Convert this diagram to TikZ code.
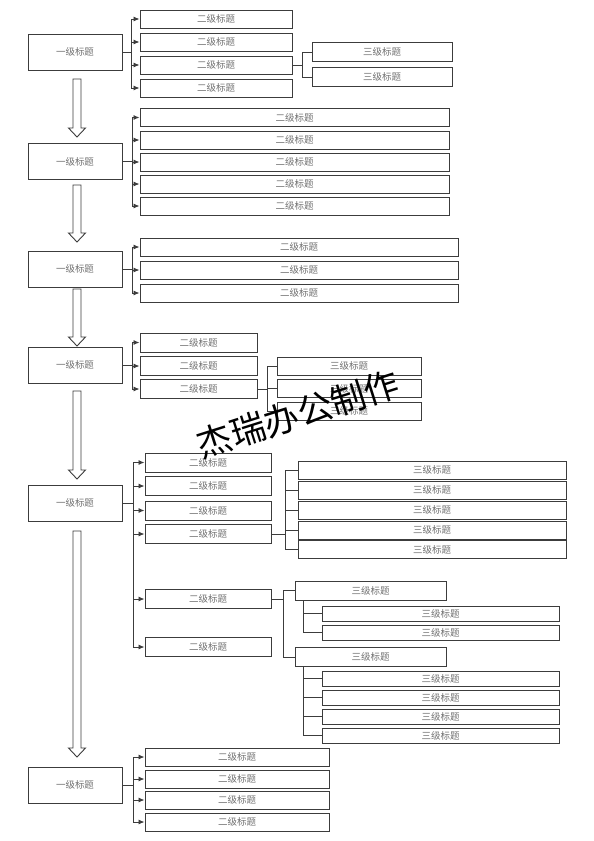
\documentclass[tikz,border=0pt]{standalone}
\usepackage{fontspec}
\newfontfamily\cjk{Noto Sans CJK SC}
\usetikzlibrary{arrows.meta}
\definecolor{ln}{RGB}{60,60,60}
\definecolor{tx}{RGB}{115,115,115}
\newcommand\bigarrow[2]{\draw[blk] (73,#1) -- (81,#1) -- (81,#2-9) -- (85.5,#2-9) -- (77,#2) -- (68.5,#2-9) -- (73,#2-9) -- cycle;}
\begin{document}
\begin{tikzpicture}[x=1pt,y=-1pt,
  bx/.style 2 args={draw=ln, line width=1pt, fill=white, inner sep=0pt,
     minimum width=#1pt, minimum height=#2pt, text=tx, font=\cjk\fontsize{9.5}{11}\selectfont},
  lone/.style={bx={94}{36}},
  conn/.style={draw=ln, line width=0.9pt},
  arr/.style={conn, -{Latex[length=6pt,width=5pt]}},
  blk/.style={draw=ln, line width=0.9pt, fill=white},
]
\useasboundingbox[fill=white] (0,0) rectangle (594,841);

% ---------- section 1
\node[lone] (A1) at (75,52) {一级标题};
\foreach \i/\y in {1/19,2/42,3/65,4/88}
  \node[bx={152}{18}] (B1\i) at (216,\y) {二级标题};
\node[bx={140}{19}] (C11) at (382,52) {三级标题};
\node[bx={140}{19}] (C12) at (382,77) {三级标题};
\coordinate (t1) at (131.5,52);
\coordinate (s1) at (302.5,65);
\draw[conn] (A1.east) -- (t1);
\foreach \i in {1,...,4} \draw[arr] (t1) |- (B1\i.west);
\draw[conn] (B13.east) -- (s1);
\foreach \i in {1,2} \draw[conn] (s1) |- (C1\i.west);

% ---------- section 2
\node[lone] (A2) at (75,161.5) {一级标题};
\foreach \i/\y in {1/117.5,2/140,3/162,4/184,5/206}
  \node[bx={309}{18}] (B2\i) at (294.5,\y) {二级标题};
\coordinate (t2) at (132,161.5);
\draw[conn] (A2.east) -- (t2);
\foreach \i in {1,...,5} \draw[arr] (t2) |- (B2\i.west);

% ---------- section 3
\node[lone] (A3) at (75,269) {一级标题};
\foreach \i/\y in {1/247,2/270,3/293}
  \node[bx={318}{18}] (B3\i) at (299,\y) {二级标题};
\coordinate (t3) at (132,269);
\draw[conn] (A3.east) -- (t3);
\foreach \i in {1,...,3} \draw[arr] (t3) |- (B3\i.west);

% ---------- section 4
\node[lone] (A4) at (75,365) {一级标题};
\foreach \i/\y in {1/342.5,2/366,3/389}
  \node[bx={117}{19}] (B4\i) at (198.5,\y) {二级标题};
\foreach \i/\y in {1/366,2/388.5,3/411}
  \node[bx={144}{18}] (C4\i) at (349,\y) {三级标题};
\coordinate (t4) at (132,365);
\coordinate (s4) at (267,389);
\draw[conn] (A4.east) -- (t4);
\foreach \i in {1,...,3} \draw[arr] (t4) |- (B4\i.west);
\draw[conn] (B43.east) -- (s4);
\foreach \i in {1,...,3} \draw[conn] (s4) |- (C4\i.west);

% ---------- section 5
\node[lone] (A5) at (75,503) {一级标题};
\foreach \i/\y in {1/462.5,2/486,3/510.5,4/534,5/599,6/647}
  \node[bx={126}{19}] (B5\i) at (208,\y) {二级标题};
\coordinate (t5) at (133,503);
\draw[conn] (A5.east) -- (t5);
\foreach \i in {1,...,6} \draw[arr] (t5) |- (B5\i.west);
\foreach \i/\y in {1/470,2/490,3/510,4/530,5/549.5}
  \node[bx={268}{18}] (C5\i) at (432,\y) {三级标题};
\coordinate (s5) at (285,534);
\draw[conn] (B54.east) -- (s5);
\foreach \i in {1,...,5} \draw[conn] (s5) |- (C5\i.west);
\node[bx={151}{19}] (D1) at (370.5,590.5) {三级标题};
\node[bx={151}{19}] (D2) at (370.5,657) {三级标题};
\coordinate (s6) at (283,599);
\draw[conn] (B55.east) -- (s6);
\draw[conn] (s6) |- (D1.west);
\draw[conn] (s6) |- (D2.west);
\foreach \i/\y in {1/613.5,2/632.5}
  \node[bx={237}{15}] (E1\i) at (440.5,\y) {三级标题};
\foreach \i/\y in {1/678.5,2/697.5,3/716.5,4/735.5}
  \node[bx={237}{15}] (E2\i) at (440.5,\y) {三级标题};
\coordinate (u1) at ([xshift=9pt]D1.south west);
\coordinate (u2) at ([xshift=9pt]D2.south west);
\foreach \i in {1,2} \draw[conn] (u1) |- (E1\i.west);
\foreach \i in {1,...,4} \draw[conn] (u2) |- (E2\i.west);

% ---------- section 6
\node[lone] (A6) at (75,785) {一级标题};
\foreach \i/\y in {1/757,2/779,3/800,4/822}
  \node[bx={184}{18}] (B6\i) at (237,\y) {二级标题};
\coordinate (t6) at (133,785);
\draw[conn] (A6.east) -- (t6);
\foreach \i in {1,...,4} \draw[arr] (t6) |- (B6\i.west);

% ---------- block arrows
\bigarrow{79}{137}
\bigarrow{185}{242}
\bigarrow{289}{346}
\bigarrow{391}{479}
\bigarrow{531}{757}

% ---------- watermark
\node[rotate=17.6, font=\cjk\fontsize{35}{40}\selectfont, text=black, inner sep=0pt] (wm) at (298,414) {杰瑞办公制作};
\end{tikzpicture}
\end{document}
